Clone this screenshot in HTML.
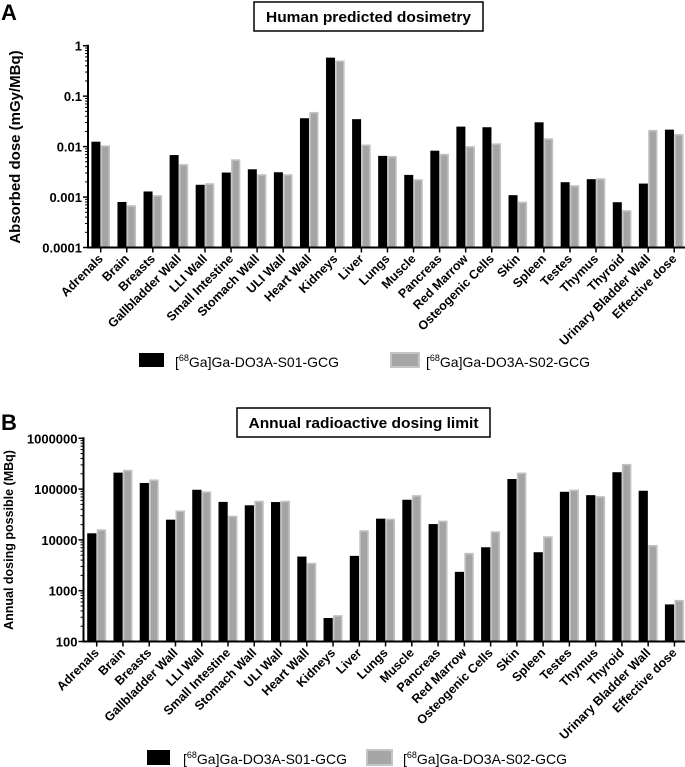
<!DOCTYPE html>
<html><head><meta charset="utf-8"><style>
html,body{margin:0;padding:0;background:#fff;width:685px;height:767px;overflow:hidden}
svg{display:block;font-family:"Liberation Sans",Arial,sans-serif}
</style></head><body>
<svg id="svg" width="685" height="767" viewBox="0 0 685 767">
<text x="1" y="20" font-size="22" font-weight="bold">A</text>
<rect x="254" y="2" width="229" height="29" fill="#fff" stroke="#000" stroke-width="1.5"/>
<text x="368.5" y="22" font-size="15" font-weight="bold" text-anchor="middle" textLength="205" lengthAdjust="spacingAndGlyphs">Human predicted dosimetry</text>
<text transform="translate(20,147) rotate(-90)" font-size="15" font-weight="bold" text-anchor="middle">Absorbed dose (mGy/MBq)</text>
<text x="1" y="430" font-size="22" font-weight="bold">B</text>
<rect x="237" y="408" width="253" height="29" fill="#fff" stroke="#000" stroke-width="1.5"/>
<text x="363.5" y="428" font-size="15" font-weight="bold" text-anchor="middle" textLength="230" lengthAdjust="spacingAndGlyphs">Annual radioactive dosing limit</text>
<text transform="translate(13,540) rotate(-90)" font-size="12.5" font-weight="bold" text-anchor="middle">Annual dosing possible (MBq)</text>
<g>
<rect x="139" y="353" width="25" height="14" fill="#000"/>
<text x="175" y="367" font-size="14">[<tspan font-size="9" dy="-6">68</tspan><tspan dy="6">Ga]Ga-DO3A-S01-GCG</tspan></text>
<rect x="391" y="353" width="28" height="14" fill="#a6a6a6" stroke="#c4c4c4" stroke-width="2"/>
<text x="426" y="367" font-size="14">[<tspan font-size="9" dy="-6">68</tspan><tspan dy="6">Ga]Ga-DO3A-S02-GCG</tspan></text>
</g>
<g>
<rect x="147" y="750" width="23" height="15" fill="#000"/>
<text x="183" y="764" font-size="14">[<tspan font-size="9" dy="-6">68</tspan><tspan dy="6">Ga]Ga-DO3A-S01-GCG</tspan></text>
<rect x="367" y="750" width="25" height="15" fill="#a6a6a6" stroke="#c4c4c4" stroke-width="2"/>
<text x="403" y="764" font-size="14">[<tspan font-size="9" dy="-6">68</tspan><tspan dy="6">Ga]Ga-DO3A-S02-GCG</tspan></text>
</g>
</svg>
<script>
const categories = ["Adrenals","Brain","Breasts","Gallbladder Wall","LLI Wall","Small Intestine","Stomach Wall","ULI Wall","Heart Wall","Kidneys","Liver","Lungs","Muscle","Pancreas","Red Marrow","Osteogenic Cells","Skin","Spleen","Testes","Thymus","Thyroid","Urinary Bladder Wall","Effective dose"];
const doseS01 = [0.0125,0.0008,0.00129,0.0068,0.00175,0.00306,0.00355,0.0031,0.0365,0.58,0.035,0.00655,0.00275,0.0083,0.0249,0.0242,0.00109,0.0303,0.00197,0.00226,0.00079,0.00185,0.0217];
const doseS02 = [0.0106,0.00069,0.00109,0.0045,0.00188,0.0056,0.00284,0.00284,0.0487,0.51,0.011,0.0065,0.00226,0.0072,0.0102,0.0116,0.00081,0.0146,0.00172,0.00236,0.00055,0.0214,0.0178];
const doseTicks = ["0.0001","0.001","0.01","0.1","1"];
const limitS01 = [13500,211000,132000,25000,97000,56000,48000,55600,4700,290,4850,26200,61700,20500,2350,7160,158000,5720,88500,76000,215000,92700,537];
const limitS02 = [16200,240000,155000,38000,90000,30000,59000,59000,3550,330,15500,26200,76000,24000,5560,14800,212000,11800,98000,72700,313000,7950,660];
const limitTicks = ["100","1000","10000","100000","1000000"];

const NS = "http://www.w3.org/2000/svg";
const svg = document.getElementById("svg");
function mk(tag, attrs, parent){
  const e = document.createElementNS(NS, tag);
  for (const k in attrs) e.setAttribute(k, attrs[k]);
  (parent||svg).appendChild(e);
  return e;
}
function drawChart(prefix, cfg, s1, s2, ticks){
  const g = mk("g", {});
  
  
  const minL = Math.log10(parseFloat(ticks[0])), maxL = Math.log10(parseFloat(ticks[ticks.length-1]));
  const y = v => cfg.yBot - (Math.log10(v) - minL) / (maxL - minL) * (cfg.yBot - cfg.yTop);
  const xc = i => cfg.x0 + i * cfg.step;
  categories.forEach((c, i) => {
    const cx = xc(i);
    const b1 = mk("rect", {x: cx - cfg.bw, y: y(s1[i]), width: cfg.bw - 0.3, height: cfg.yBot - y(s1[i]), fill: "#000"}, g);
    
    
    const b2 = mk("rect", {x: cx + 0.8, y: y(s2[i]) + 0.8, width: cfg.bw - 1.6, height: cfg.yBot - y(s2[i]) - 0.8, fill: "#a4a4a4", stroke: "#c2c2c2", "stroke-width": 1.6}, g);
    
    
    mk("line", {x1: cx, x2: cx, y1: cfg.yBot, y2: cfg.yBot + 5, stroke: "#000", "stroke-width": 1.5}, g);
    const t = mk("text", {transform: "translate(" + (cx + 3) + "," + (cfg.yBot + 12) + ") rotate(-45)", "text-anchor": "end", "font-size": 12.5, "font-weight": "bold"}, g);
    t.textContent = c;
    
    
  });
  const ax = mk("line", {x1: cfg.axX, x2: cfg.axX, y1: cfg.yTop - 1, y2: cfg.yBot + 1, stroke: "#000", "stroke-width": 2}, g);
  
  
  const bx = mk("line", {x1: cfg.axX - 1, x2: 685, y1: cfg.yBot, y2: cfg.yBot, stroke: "#000", "stroke-width": 2}, g);
  
  
  ticks.forEach((tk, k) => {
    const v = parseFloat(tk), ty = y(v);
    mk("line", {x1: cfg.axX - 5, x2: cfg.axX, y1: ty, y2: ty, stroke: "#000", "stroke-width": 1.5}, g);
    const t = mk("text", {x: cfg.axX - 6, y: ty + 5, "text-anchor": "end", "font-size": cfg.tickFs, "font-weight": "bold"}, g);
    t.textContent = tk;
    
    
    if (k < ticks.length - 1) {
      for (let m = 2; m <= 9; m++) {
        const my = y(v * m);
        mk("line", {x1: cfg.axX - 3, x2: cfg.axX, y1: my, y2: my, stroke: "#000", "stroke-width": 1}, g);
      }
    }
  });
}
drawChart("chart-a", {axX: 88, x0: 100.7, step: 26.07, bw: 9.3, yTop: 45.7, yBot: 247.5, tickFs: 13}, doseS01, doseS02, doseTicks);
drawChart("chart-b", {axX: 83.5, x0: 96.7, step: 26.26, bw: 9.5, yTop: 438.3, yBot: 641.5, tickFs: 13}, limitS01, limitS02, limitTicks);
</script>
</body></html>
